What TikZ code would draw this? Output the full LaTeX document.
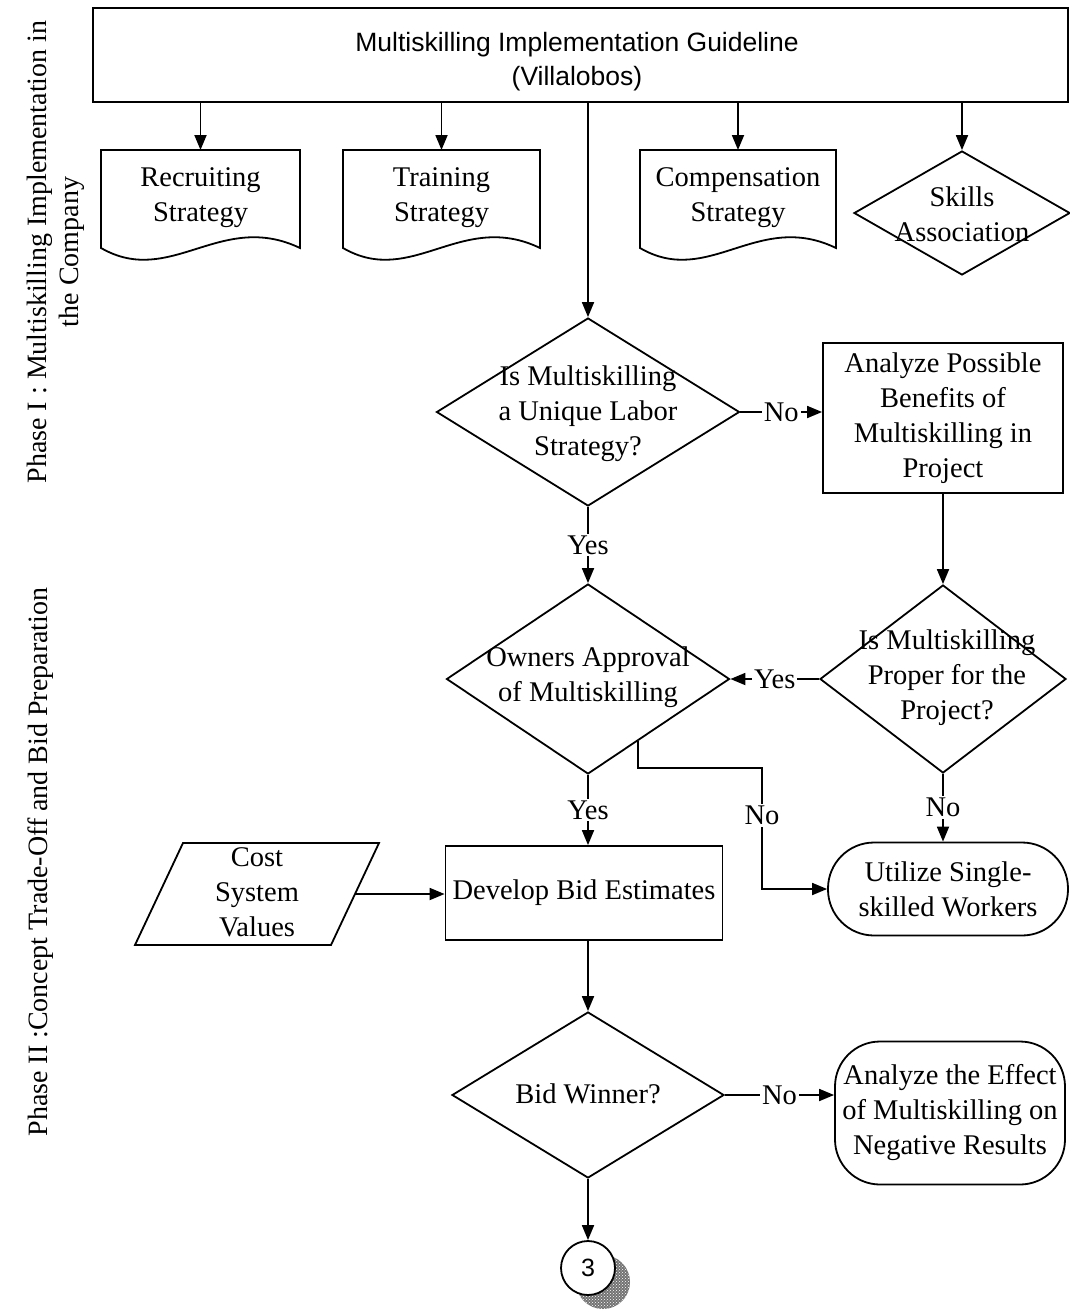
\documentclass[tikz,border=0pt]{standalone}
\usepackage{fontspec}
\setmainfont{Liberation Serif}
\newfontfamily\arialfont{Liberation Sans}
\usetikzlibrary{arrows.meta,shapes.geometric,patterns,calc}
\newcommand\mydoc[4]{%
  \draw (#1,150) -- (#2,150) -- (#2,248) .. controls ({#1+0.6*(#2-#1)},210) and ({#1+0.35*(#2-#1)},288) .. (#1,248) -- cycle;
  \coordinate (#3) at ({(#1+#2)/2},150);
  \node[txt] (#3t) at ({(#1+#2)/2},198) {#4};
}
\begin{document}
\begin{tikzpicture}[x=1pt,y=-1pt,line width=1.8pt,
  font=\fontsize{28.5}{35}\selectfont,
  arr/.style={-{Triangle[length=15pt,width=12pt]}},
  box/.style={draw,rectangle,inner sep=0pt,align=center},
  txt/.style={align=center,inner sep=0pt},
  dia/.style={draw,diamond,inner sep=0pt},
  lbl/.style={fill=white,inner sep=2pt},
  side/.style={rotate=90,align=center,inner sep=0pt,font=\fontsize{28}{32}\selectfont}]
\useasboundingbox (0,0) rectangle (1070,1310);

% side labels
\node[side] (ph1) at (56,252) {Phase I : Multiskilling Implementation in\\the Company};
\node[side] (ph2) at (41,862) {Phase II :Concept Trade-Off and Bid Preparation};

% top box
\node[box,minimum width=975pt,minimum height=94pt] (top) at (580.5,55) {};
\node[txt,font=\arialfont\fontsize{26.5}{34}\selectfont] (topt) at (577,62) {Multiskilling Implementation Guideline\\(Villalobos)};

% documents
\mydoc{101}{300}{rec}{Recruiting\\Strategy}
\mydoc{343}{540}{tra}{Training\\Strategy}
\mydoc{640}{836}{com}{Compensation\\Strategy}
\draw[arr] (top.south -| rec) -- (rec);
\draw[arr] (top.south -| tra) -- (tra);
\draw[arr] (top.south -| com) -- (com);

% skills association
\node[dia,minimum width=216pt,minimum height=124pt] (skills) at (962,213) {};
\node[txt] (skillst) at (962,214) {Skills\\Association};
\draw[arr] (top.south -| skills.north) -- (skills.north);

% decision 1
\node[dia,minimum width=303pt,minimum height=188pt] (d1) at (588,412) {};
\node[txt] (d1t) at (588,414) {Is Multiskilling\\a Unique Labor\\Strategy?};
\draw[arr] (top.south -| d1.north) -- (d1.north);

\node[box,minimum width=240pt,minimum height=150pt] (ana) at (943,418) {Analyze Possible\\Benefits of\\Multiskilling in\\Project};
\draw[arr] (d1.east) -- node[lbl]{No} (d1.east -| ana.west);

% decision 2
\node[dia,minimum width=246pt,minimum height=188pt] (d2) at (943,679) {};
\node[txt] (d2t) at (947,678) {Is Multiskilling\\Proper for the\\Project?};
\draw[arr] (ana.south) -- (d2.north);

% decision 3
\node[dia,minimum width=283pt,minimum height=190pt] (d3) at (588,679) {};
\node[txt] (d3t) at (588,677) {Owners Approval\\of Multiskilling};
\draw[arr] (d2.west) -- node[lbl]{Yes} (d3.east);
\draw[arr] (d1.south) -- node[lbl]{Yes} (d3.north);

% develop bid estimates
\node[box,minimum width=277pt,minimum height=94pt] (dev) at (584,893) {Develop Bid Estimates};
\draw[arr] (d3.south) -- node[lbl]{Yes} (d3.south |- dev.north);

% utilize single-skilled
\node[box,rounded corners=46pt,minimum width=240pt,minimum height=93pt] (util) at (948,889) {Utilize Single-\\skilled Workers};
\draw[arr] (d2.south) -- node[lbl]{No} (d2.south |- util.north);

\coordinate (d3a) at ($(d3.east)!0.65!(d3.south)$);
\coordinate (nocorner) at (762,768);
\draw[arr] (d3a) |- (nocorner) -- node[lbl,pos=0.39]{No} (nocorner |- util.west) -- (util.west);

% cost system values
\coordinate (cTL) at (183,843);
\coordinate (cTR) at (379,843);
\coordinate (cBR) at (331,945);
\coordinate (cBL) at (135,945);
\draw (cTL) -- (cTR) -- (cBR) -- (cBL) -- cycle;
\node[txt] (cost) at (257,892) {Cost\\System\\Values};
\coordinate (costr) at ($(cTR)!0.5!(cBR)$);
\draw[arr] (costr) -- (costr -| dev.west);

% bid winner
\node[dia,minimum width=272pt,minimum height=166pt] (d4) at (588,1095) {};
\node[txt] (d4t) at (588,1094) {Bid Winner?};
\draw[arr] (d4.north |- dev.south) -- (d4.north);

\node[box,rounded corners=45pt,minimum width=230pt,minimum height=143pt] (eff) at (950,1113) {Analyze the Effect\\of Multiskilling on\\Negative Results};
\draw[arr] (d4.east) -- node[lbl]{No} (d4.east -| eff.west);

% connector 3
\fill[black!55] (603,1282) circle (27pt);
\fill[pattern=crosshatch dots,pattern color=white] (603,1282) circle (27pt);
\node[draw,circle,minimum size=54pt,inner sep=0pt,fill=white,font=\arialfont\fontsize{25}{28}\selectfont] (c3) at (588,1268) {3};
\draw[arr] (d4.south) -- (c3.north);
\end{tikzpicture}
\end{document}
